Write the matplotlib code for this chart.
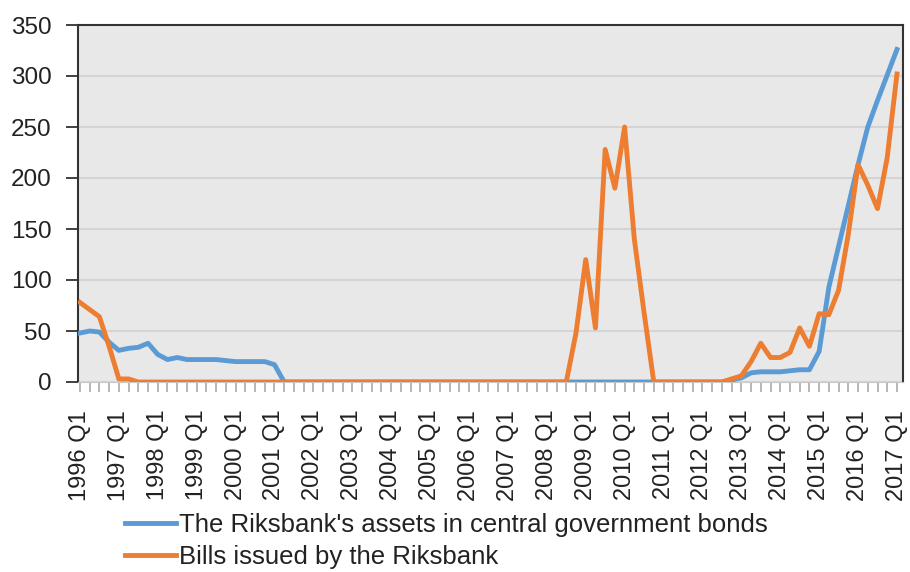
import numpy as np
import matplotlib
matplotlib.use("Agg")
import matplotlib.pyplot as plt

plt.rcParams['font.family'] = ['Liberation Sans', 'DejaVu Sans']

# quarterly values, 1996 Q1 .. 2017 Q1 (one row per year)
bonds = [
    48, 50, 49, 39,      # 1996
    31, 33, 34, 38,      # 1997
    27, 22, 24, 22,      # 1998
    22, 22, 22, 21,      # 1999
    20, 20, 20, 20,      # 2000
    17, 0, 0, 0,         # 2001
    0, 0, 0, 0,          # 2002
    0, 0, 0, 0,          # 2003
    0, 0, 0, 0,          # 2004
    0, 0, 0, 0,          # 2005
    0, 0, 0, 0,          # 2006
    0, 0, 0, 0,          # 2007
    0, 0, 0, 0,          # 2008
    0, 0, 0, 0,          # 2009
    0, 0, 0, 0,          # 2010
    0, 0, 0, 0,          # 2011
    0, 0, 0, 2,          # 2012
    4, 9, 10, 10,        # 2013
    10, 11, 12, 12,      # 2014
    30, 93, 133, 173,    # 2015
    213, 250, 276, 301,  # 2016
    326,                 # 2017
]
bills = [
    78, 71, 64, 35,      # 1996
    3, 3, 0, 0,          # 1997
    0, 0, 0, 0,          # 1998
    0, 0, 0, 0,          # 1999
    0, 0, 0, 0,          # 2000
    0, 0, 0, 0,          # 2001
    0, 0, 0, 0,          # 2002
    0, 0, 0, 0,          # 2003
    0, 0, 0, 0,          # 2004
    0, 0, 0, 0,          # 2005
    0, 0, 0, 0,          # 2006
    0, 0, 0, 0,          # 2007
    0, 0, 0, 48,         # 2008
    120, 53, 228, 190,   # 2009
    250, 140, 68, 0,     # 2010
    0, 0, 0, 0,          # 2011
    0, 0, 0, 3,          # 2012
    6, 20, 38, 24,       # 2013
    24, 29, 53, 35,      # 2014
    67, 66, 90, 145,     # 2015
    213, 193, 170, 220,  # 2016
    302,                 # 2017
]
tick_labels = ["1996 Q1", "1997 Q1", "1998 Q1", "1999 Q1", "2000 Q1", "2001 Q1",
               "2002 Q1", "2003 Q1", "2004 Q1", "2005 Q1", "2006 Q1", "2007 Q1",
               "2008 Q1", "2009 Q1", "2010 Q1", "2011 Q1", "2012 Q1", "2013 Q1",
               "2014 Q1", "2015 Q1", "2016 Q1", "2017 Q1"]
names = ["The Riksbank's assets in central government bonds",
         "Bills issued by the Riksbank"]

x = np.arange(len(bonds))
txt = '#222222'

fig = plt.figure(figsize=(9.1, 5.72), dpi=100)
ax = fig.add_axes([78/910, 1-382/572, (902.5-78)/910, (382-25)/572])
ax.set_facecolor('#E8E8E8')

ax.plot(x, bonds, color='#5B9BD5', lw=3.5, solid_joinstyle='round', label=names[0], zorder=3)
ax.plot(x, bills, color='#ED7D31', lw=3.5, solid_joinstyle='round', label=names[1], zorder=4)

ax.set_ylim(0, 350)
ax.set_xlim(-0.2, 84.57)
ax.set_yticks(np.arange(0, 351, 50))
ax.yaxis.grid(True, color='#D4D4D4', lw=1.5)
ax.set_axisbelow(True)

ax.set_xticks(np.arange(0, len(bonds), 4))
ax.set_xticklabels(tick_labels, rotation=90)
ax.set_xticks([i for i in x if i % 4], minor=True)

ax.tick_params(axis='y', direction='out', length=9, width=1.3, color='#333333',
               labelsize=17.5, labelcolor=txt, pad=10)
ax.tick_params(axis='x', which='both', direction='out', length=7, width=1.2,
               color='#AAAAAA', labelsize=17, labelcolor=txt, pad=13)

for s in ['left', 'top', 'right']:
    ax.spines[s].set_color('#333333')
    ax.spines[s].set_linewidth(1.5)
ax.spines['bottom'].set_color('#C8C8C8')

fig.legend(loc='upper left', bbox_to_anchor=(125/910, 1-513/572), frameon=False,
           fontsize=18.5, handlelength=2.0, handletextpad=0.1, labelspacing=0.3,
           borderpad=0, borderaxespad=0, labelcolor=txt)

fig.savefig('out.png', dpi=100)
